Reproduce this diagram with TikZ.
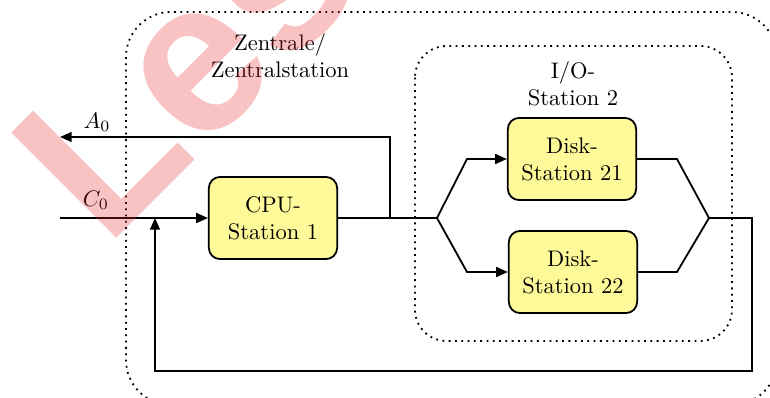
\documentclass[tikz,border=0pt]{standalone}
\usepackage{fontspec}
\newfontfamily\wmfont{Liberation Sans}
\usetikzlibrary{positioning,arrows.meta}
\definecolor{wmred}{RGB}{232,40,44}

\begin{document}
\begin{tikzpicture}[
        x=0.4442pt, y=-0.4442pt,
        >={Triangle[length=5.2pt, width=4.4pt]},
        stationNode/.style={rectangle, draw, thick, rounded corners=5pt, fill=yellow!40, minimum width=57pt, minimum height=36.5pt, inner sep=0pt, align=center},
        groupBox/.style={draw, thick, dotted},
        flowLine/.style={thick}
    ]
        \useasboundingbox (0,0) rectangle (770,398);
        \clip (0,0) rectangle (770,398);

        % Groups
        \draw[groupBox, rounded corners=20pt] (126,12) rectangle (777,405);
        \draw[groupBox, rounded corners=14pt] (415,46) rectangle (732,341);
        \node[align=center] (zentrale) at (280,56) {Zentrale/\\Zentralstation};
        \node[align=center] (io) at (573,84) {I/O-\\Station 2};

        % Stations
        \node[stationNode] (cpu) at (273,218) {CPU-\\Station 1};
        \node[stationNode] (d21) at (572,159) {Disk-\\Station 21};
        \node[stationNode] (d22) at (573,272) {Disk-\\Station 22};

        % Junctions
        \coordinate (in) at (60,218);
        \coordinate (out) at (60,137);
        \coordinate (tap) at (390,218);
        \coordinate (split) at (437,218);
        \coordinate (join) at (709,218);
        \coordinate (back) at (155,218);

        % Labels for the streams
        \node (a0) at (97,122) {$A_0$};
        \node (c0) at (96,200) {$C_0$};

        % Edges
        \draw[flowLine, ->] (in) -- (cpu);
        \draw[flowLine] (cpu) -- (split);
        \draw[flowLine, ->] (tap) |- (out);
        \draw[flowLine, ->] (split) -- (467,159) -- (d21);
        \draw[flowLine, ->] (split) -- (467,272) -- (d22);
        \draw[flowLine] (d21) -- (677,159) -- (join);
        \draw[flowLine] (d22) -- (677,272) -- (join);
        \draw[flowLine, ->] (join) -- (752,218) -- (752,371) -- (155,371) -- (back);

        % Watermark
        \node[text=wmred, opacity=0.28, font=\wmfont\bfseries\fontsize{96}{96}\selectfont, rotate=45, anchor=base west, inner sep=0pt] (wm) at (106,249) {Les};
    \end{tikzpicture}
\end{document}
